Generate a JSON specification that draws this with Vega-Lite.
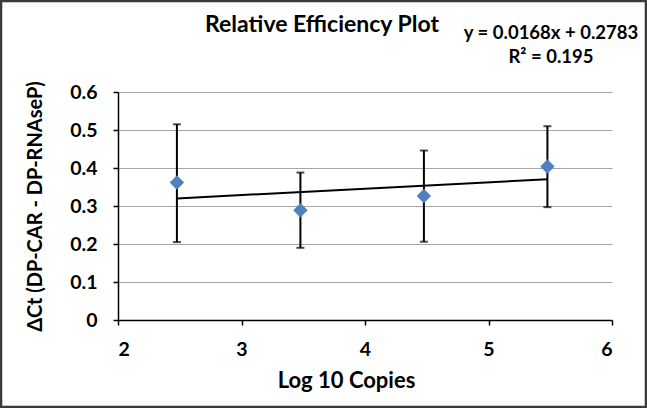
{
  "$schema": "https://vega.github.io/schema/vega-lite/v6.json",
  "autosize": "none",
  "width": 494,
  "height": 228,
  "padding": {"left": 118, "top": 92, "right": 35, "bottom": 88},
  "background": "white",
  "datasets": {
    "points": [
      {"logCopies": 2.477, "dCt": 0.362, "lo": 0.205, "hi": 0.515},
      {"logCopies": 3.477, "dCt": 0.289, "lo": 0.19, "hi": 0.388},
      {"logCopies": 4.477, "dCt": 0.326, "lo": 0.206, "hi": 0.446},
      {"logCopies": 5.477, "dCt": 0.404, "lo": 0.297, "hi": 0.51}
    ],
    "trend": [
      {"logCopies": 2.477, "dCt": 0.3199},
      {"logCopies": 5.477, "dCt": 0.3703}
    ]
  },
  "config": {
    "view": {"stroke": null},
    "axis": {
      "labelFont": "Lato",
      "labelFontSize": 19.5,
      "labelFontWeight": "bold",
      "labelColor": "black",
      "labelOverlap": false,
      "titleFont": "Lato",
      "titleFontSize": 21,
      "titleFontWeight": "bold",
      "titleColor": "black",
      "domainColor": "black",
      "domainWidth": 1.5,
      "tickColor": "black",
      "tickWidth": 1.5,
      "tickSize": 5
    }
  },
  "layer": [
    {
      "data": {"name": "points"},
      "mark": {"type": "rule", "color": "black", "strokeWidth": 2},
      "encoding": {
        "x": {
          "field": "logCopies",
          "type": "quantitative",
          "scale": {"domain": [2, 6], "nice": false, "zero": false},
          "axis": {
            "title": "Log 10 Copies",
            "titleFontSize": 22,
            "values": [2, 3, 4, 5, 6],
            "tickCount": 5,
            "format": "d",
            "grid": false,
            "labelPadding": 15,
            "titleX": 228,
            "titlePadding": 12
          }
        },
        "y": {
          "field": "lo",
          "type": "quantitative",
          "scale": {"domain": [0, 0.6], "nice": false},
          "axis": {
            "title": "ΔCt (DP-CAR - DP-RNAseP)",
            "titleFontSize": 20,
            "values": [0, 0.1, 0.2, 0.3, 0.4, 0.5, 0.6],
            "tickCount": 7,
            "labelExpr": "datum.value == 0 ? '0' : format(datum.value, '.1f')",
            "grid": true,
            "gridColor": "#a6a6a6",
            "gridWidth": 1,
            "labelPadding": 16,
            "titlePadding": 24
          }
        },
        "y2": {"field": "hi"}
      }
    },
    {
      "data": {"name": "points"},
      "mark": {"type": "tick", "orient": "horizontal", "color": "black", "size": 8, "thickness": 2},
      "encoding": {
        "x": {"field": "logCopies", "type": "quantitative"},
        "y": {"field": "lo", "type": "quantitative"}
      }
    },
    {
      "data": {"name": "points"},
      "mark": {"type": "tick", "orient": "horizontal", "color": "black", "size": 8, "thickness": 2},
      "encoding": {
        "x": {"field": "logCopies", "type": "quantitative"},
        "y": {"field": "hi", "type": "quantitative"}
      }
    },
    {
      "data": {"name": "trend"},
      "mark": {"type": "line", "color": "black", "strokeWidth": 2},
      "encoding": {
        "x": {"field": "logCopies", "type": "quantitative"},
        "y": {"field": "dCt", "type": "quantitative"}
      }
    },
    {
      "data": {"name": "points"},
      "mark": {"type": "point", "shape": "diamond", "filled": true, "color": "#4f81bd", "opacity": 1, "size": 210},
      "encoding": {
        "x": {"field": "logCopies", "type": "quantitative"},
        "y": {"field": "dCt", "type": "quantitative"}
      }
    },
    {
      "data": {"values": [{}]},
      "mark": {
        "type": "text",
        "text": "Relative Efficiency Plot",
        "font": "Lato",
        "fontSize": 23,
        "fontWeight": "bold",
        "color": "black",
        "align": "center",
        "baseline": "alphabetic"
      },
      "encoding": {
        "x": {"datum": 3.652, "scale": {"domain": [2, 6], "nice": false, "zero": false}},
        "y": {"datum": 0.758, "scale": {"domain": [0, 0.6], "nice": false}}
      }
    },
    {
      "data": {"values": [{}]},
      "mark": {
        "type": "text",
        "text": ["y = 0.0168x + 0.2783", "R² = 0.195"],
        "font": "Lato",
        "fontSize": 18.5,
        "fontWeight": "bold",
        "color": "black",
        "align": "center",
        "baseline": "top",
        "lineHeight": 24
      },
      "encoding": {
        "x": {"datum": 5.506, "scale": {"domain": [2, 6], "nice": false, "zero": false}},
        "y": {"datum": 0.78, "scale": {"domain": [0, 0.6], "nice": false}}
      }
    },
    {
      "data": {"values": [{}]},
      "mark": {"type": "rect", "fill": null, "stroke": "#3a3a3a", "strokeWidth": 2.5},
      "encoding": {
        "x": {"datum": 1.0526, "scale": {"domain": [2, 6], "nice": false, "zero": false}},
        "x2": {"datum": 6.275},
        "y": {"datum": 0.8395, "scale": {"domain": [0, 0.6], "nice": false}},
        "y2": {"datum": -0.2289}
      }
    }
  ]
}
